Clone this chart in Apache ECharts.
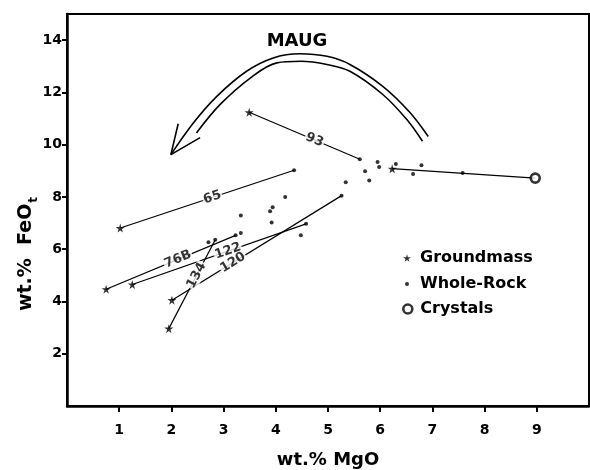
<!DOCTYPE html>
<html>
<head>
<meta charset="utf-8">
<script src="https://cdn.jsdelivr.net/npm/echarts@6/dist/echarts.min.js"></script>
<style>
html, body { margin: 0; padding: 0; background: #fff; }
#chart { width: 590px; height: 470px; }
</style>
</head>
<body>
<div id="chart"></div>
<script>
// Axis ticks (wt.% MgO, wt.% FeOt)
const xTicks = [1, 2, 3, 4, 5, 6, 7, 8, 9];
const yTicks = [2, 4, 6, 8, 10, 12, 14];

// Analyses: [MgO, FeOt]
const groundmass = [[3.49, 11.24], [1.02, 6.81], [0.75, 4.47], [1.25, 4.65], [2.01, 4.05], [1.95, 2.96], [6.23, 9.08]];
const wholeRock = [
  [5.61, 9.44], [5.95, 9.34], [5.98, 9.15], [5.71, 8.98], [5.79, 8.63], [5.34, 8.56],
  [5.26, 8.05], [6.30, 9.26], [6.63, 8.88], [6.79, 9.21], [7.58, 8.92], [4.35, 9.02],
  [4.18, 8.00], [3.33, 7.29], [3.94, 7.61], [3.89, 7.45], [3.92, 7.02], [3.33, 6.62],
  [3.23, 6.53], [2.71, 6.27], [2.84, 6.36], [4.58, 6.97], [4.48, 6.53]
];
const crystals = [[8.97, 8.72]];

// Sample tie lines: groundmass index -> whole-rock index
const sampleIds = ['93', '65', '76B', '122', '120', '134'];
const tieGroundmass = [0, 1, 2, 3, 4, 5];
const tieWholeRock = [0, 11, 18, 21, 6, 20];
// groundmass of the crystal-bearing sample -> crystals
const crystalTie = [6, 0];

// Where each sample id sits along its tie line (0 = groundmass end)
const labelAt = [0.59, 0.53, 0.555, 0.55, 0.36, 0.60];

// Curved trend arrow, drawn in axis units
const arrowOuter = [[1.99, 9.62], [2.42, 10.83], [2.87, 11.85], [3.44, 12.81], [3.95, 13.32], [4.46, 13.48], [4.98, 13.38], [5.42, 13.07], [6.05, 12.23], [6.57, 11.23], [6.92, 10.31]];
const arrowInner = [[2.48, 10.45], [2.93, 11.53], [3.51, 12.55], [4.02, 13.13], [4.48, 13.19], [4.98, 13.07], [5.42, 12.81], [6.05, 11.92], [6.51, 10.96], [6.81, 10.13]];
const arrowHead = [[2.13, 10.80], [1.99, 9.62], [2.55, 10.27]];

const FONT = 'DejaVu Sans';
const STAR = 'path://M50,0 L61,35 L98,35 L68,57 L79,91 L50,70 L21,91 L32,57 L2,35 L39,35 Z';

const chart = echarts.init(document.getElementById('chart'), null, { renderer: 'canvas' });

const plainLine = (data, extra) => Object.assign({
  type: 'line', data: data, symbol: 'none', silent: true, animation: false,
  lineStyle: { color: '#000', width: 1.2 }, z: 2
}, extra || {});

function tieSeries() {
  const out = sampleIds.map((id, i) => plainLine([groundmass[tieGroundmass[i]], wholeRock[tieWholeRock[i]]]));
  out.push(plainLine([groundmass[crystalTie[0]], crystals[crystalTie[1]]]));
  return out;
}

function labelData() {
  return sampleIds.map((id, i) => {
    const a = groundmass[tieGroundmass[i]];
    const b = wholeRock[tieWholeRock[i]];
    const t = labelAt[i];
    const p = [a[0] + (b[0] - a[0]) * t, a[1] + (b[1] - a[1]) * t];
    const pa = chart.convertToPixel({ gridIndex: 0 }, a);
    const pb = chart.convertToPixel({ gridIndex: 0 }, b);
    const ang = Math.atan2(-(pb[1] - pa[1]), pb[0] - pa[0]) * 180 / Math.PI;
    return { value: p, name: id, label: { rotate: ang, formatter: id } };
  });
}

const legendText = { fontFamily: FONT, fontWeight: 'bold', fontSize: 16, color: '#000' };

const option = {
  animation: false,
  backgroundColor: '#fff',
  grid: { left: 67, right: 1, top: 14, bottom: 64, outerBoundsMode: 'none', containLabel: false,
    show: true, borderColor: '#000', borderWidth: 2 },
  xAxis: {
    type: 'value', min: 0, max: 10, interval: 1,
    name: 'wt.% MgO', nameLocation: 'middle', nameGap: 45,
    nameTextStyle: { fontFamily: FONT, fontWeight: 'bold', fontSize: 18, color: '#000' },
    axisLine: { lineStyle: { color: '#000', width: 2.5 } },
    axisTick: { customValues: xTicks, length: 6, lineStyle: { color: '#000', width: 2 } },
    axisLabel: { customValues: xTicks, margin: 17, fontFamily: FONT, fontWeight: 'bold', fontSize: 14, color: '#000' },
    splitLine: { show: false }
  },
  yAxis: {
    type: 'value', min: 0, max: 15, interval: 1,
    axisLine: { lineStyle: { color: '#000', width: 2.5 } },
    axisTick: { customValues: yTicks, length: 5, lineStyle: { color: '#000', width: 2 } },
    axisLabel: { customValues: yTicks, margin: 5, fontFamily: FONT, fontWeight: 'bold', fontSize: 14, color: '#000' },
    splitLine: { show: false }
  },
  legend: [
    { data: ['Groundmass'], orient: 'vertical', left: 403, top: 250, padding: 0, itemWidth: 8, itemHeight: 8, itemGap: 0,
      textStyle: Object.assign({ padding: [0, 0, 0, 4] }, legendText), selectedMode: false },
    { data: ['Whole-Rock'], orient: 'vertical', left: 405, top: 276, padding: 0, itemWidth: 4, itemHeight: 4, itemGap: 0,
      textStyle: Object.assign({ padding: [0, 0, 0, 6] }, legendText), selectedMode: false },
    { data: ['Crystals'], orient: 'vertical', left: 402, top: 301, padding: 0, itemWidth: 9, itemHeight: 9, itemGap: 0,
      itemStyle: { color: '#fff', borderColor: '#000', borderWidth: 2.6 },
      textStyle: Object.assign({ padding: [0, 0, 0, 3] }, legendText), selectedMode: false }
  ],
  graphic: [
    { type: 'text', x: 297, y: 41, silent: true,
      style: { text: 'MAUG', align: 'center', verticalAlign: 'middle', fill: '#000',
        font: 'bold 18px "DejaVu Sans"' } },
    { type: 'text', x: 27, y: 254, rotation: Math.PI / 2, silent: true,
      style: { text: '{m|wt.%  FeO}{s|t}', align: 'center', verticalAlign: 'middle', fill: '#000',
        rich: {
          m: { fontFamily: FONT, fontWeight: 'bold', fontSize: 19, lineHeight: 21, verticalAlign: 'top' },
          s: { fontFamily: FONT, fontWeight: 'bold', fontSize: 12, lineHeight: 12, verticalAlign: 'top', padding: [11, 0, 0, 1] }
        } } }
  ],
  series: [
    ...tieSeries(),
    plainLine(arrowOuter, { smooth: 0.35, lineStyle: { color: '#000', width: 1.6 } }),
    plainLine(arrowInner, { smooth: 0.35, lineStyle: { color: '#000', width: 1.6 } }),
    plainLine(arrowHead, { lineStyle: { color: '#000', width: 1.6 } }),
    { name: 'Groundmass', type: 'scatter', symbol: STAR, symbolSize: 9, data: groundmass,
      itemStyle: { color: '#000' }, z: 5, silent: true },
    { name: 'Whole-Rock', type: 'scatter', symbol: 'circle', symbolSize: 4, data: wholeRock,
      itemStyle: { color: '#000' }, z: 5, silent: true },
    { name: 'Crystals', type: 'scatter', symbol: 'circle', symbolSize: 9, data: crystals,
      itemStyle: { color: '#fff', borderColor: '#000', borderWidth: 2.6 }, z: 6, silent: true },
    { id: 'sampleIds', type: 'scatter', symbolSize: 0, data: [], z: 4, silent: true,
      label: { show: true, position: 'inside', fontFamily: FONT, fontWeight: 'bold', fontSize: 13,
        color: '#000', backgroundColor: '#fff', padding: [0, 1] } }
  ]
};

chart.setOption(option);
chart.setOption({ series: [{ id: 'sampleIds', data: labelData() }] });
</script>
</body>
</html>
